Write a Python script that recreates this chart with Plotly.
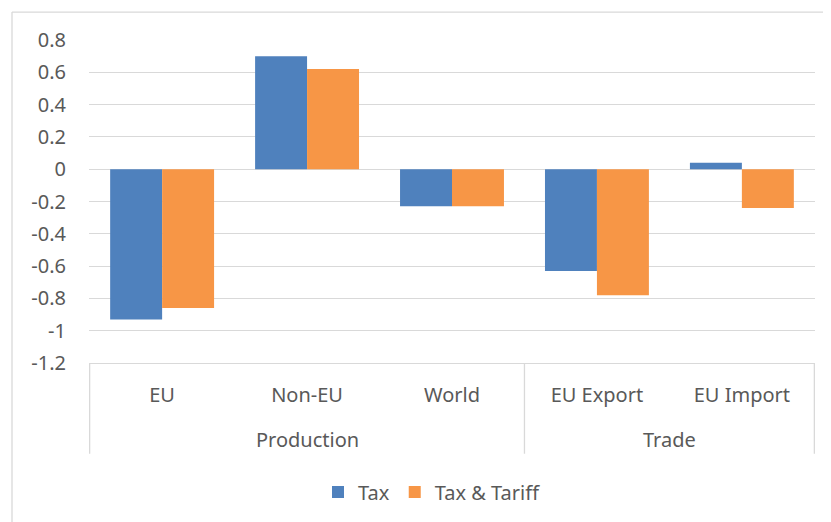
import plotly.graph_objects as go

subcategories = ["EU", "Non-EU", "World", "EU Export", "EU Import"]
groups = ["Production", "Trade"]
group_sizes = [3, 2]
tax = [-0.93, 0.70, -0.23, -0.63, 0.04]
tax_tariff = [-0.86, 0.62, -0.23, -0.78, -0.24]
ytick_vals = [0.8, 0.6, 0.4, 0.2, 0, -0.2, -0.4, -0.6, -0.8, -1, -1.2]
ytick_text = ["0.8", "0.6", "0.4", "0.2", "0", "-0.2", "-0.4", "-0.6", "-0.8", "-1", "-1.2"]

FONT = "Noto Sans"
TXT = "#595959"
GRID = "#d9d9d9"

OFF = 8  # page body margin
W, H = 831 - OFF, 522 - OFF
# plot area in screen pixels: x 89..815, y 40..364
L, T = 89 - OFF, 40 - OFF
R = W - (815 - OFF)
B = H - (364 - OFF)
pw, ph = W - L - R, H - T - B

def px_to_paper_x(px):
    return (px - OFF - L) / pw

def px_to_paper_y(py):
    return (H - B - (py - OFF)) / ph

fig = go.Figure()
fig.add_trace(go.Bar(name="Tax", x=subcategories, y=tax, marker_color="#4F81BD", marker_line_width=0))
fig.add_trace(go.Bar(name="Tax & Tariff", x=subcategories, y=tax_tariff, marker_color="#F79646", marker_line_width=0))

shapes = []
bounds = [-0.5]
for s in group_sizes:
    bounds.append(bounds[-1] + s)
for b in bounds:
    shapes.append(dict(type="line", xref="x", yref="paper", x0=b, x1=b,
                       y0=0, y1=px_to_paper_y(455), line=dict(color=GRID, width=1.3)))
# chart border (top and left visible)
shapes.append(dict(type="line", xref="paper", yref="paper", x0=px_to_paper_x(12), x1=px_to_paper_x(840),
                   y0=px_to_paper_y(12), y1=px_to_paper_y(12), line=dict(color=GRID, width=1.3)))
shapes.append(dict(type="line", xref="paper", yref="paper", x0=px_to_paper_x(12), x1=px_to_paper_x(12),
                   y0=px_to_paper_y(12), y1=px_to_paper_y(540), line=dict(color=GRID, width=1.3)))

annotations = []
start = -0.5
for g, s in zip(groups, group_sizes):
    annotations.append(dict(text=g, xref="x", yref="paper", x=start + s / 2, y=px_to_paper_y(441),
                            showarrow=False, xanchor="center", yanchor="middle",
                            font=dict(family=FONT, size=20, color=TXT)))
    start += s

fig.update_layout(
    width=W, height=H,
    margin=dict(l=L, r=R, t=T, b=B),
    paper_bgcolor="white", plot_bgcolor="white",
    barmode="group", bargap=0.283, bargroupgap=0,
    font=dict(family=FONT, size=20, color=TXT),
    shapes=shapes, annotations=annotations,
    legend=dict(orientation="h", x=px_to_paper_x(432), xanchor="center",
                y=px_to_paper_y(492), yanchor="middle",
                font=dict(family=FONT, size=20, color=TXT),
                itemwidth=30, tracegroupgap=0),
    showlegend=True,
)
fig.update_yaxes(range=[-1.2, 0.8], tickvals=ytick_vals, ticktext=ytick_text,
                 showgrid=True, gridcolor=GRID, gridwidth=1.3,
                 zeroline=True, zerolinecolor=GRID, zerolinewidth=1.3,
                 showline=False, ticks="outside", ticklen=18, tickcolor="rgba(0,0,0,0)",
                 tickfont=dict(family=FONT, size=20, color=TXT))
fig.update_xaxes(showline=True, linecolor=GRID, linewidth=1.3, showgrid=False,
                 ticks="outside", ticklen=14, tickcolor="rgba(0,0,0,0)",
                 tickfont=dict(family=FONT, size=20, color=TXT))

fig.write_html("out.html")
